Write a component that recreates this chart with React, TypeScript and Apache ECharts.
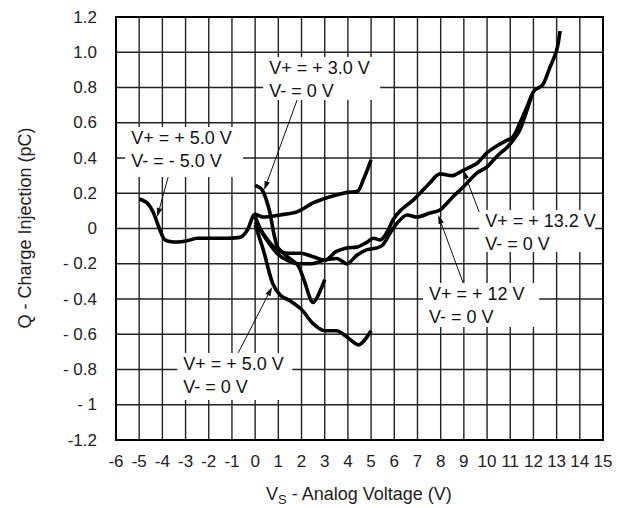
import React, { useEffect, useRef } from "react";
import * as echarts from "echarts";

const xTickLabels = ["-6", "-5", "-4", "-3", "-2", "-1", "0", "1", "2", "3", "4", "5", "6", "7", "8", "9", "10", "11", "12", "13", "14", "15"];
const yTickLabels = ["-1.2", "- 1", "- 0.8", "- 0.6", "- 0.4", "- 0.2", "0", "0.2", "0.4", "0.6", "0.8", "1.0", "1.2"];

// V+ = +5.0 V, V- = -5.0 V
const dualX = [-5.0, -4.66, -4.4, -4.1, -3.88, -3.36, -2.93, -2.5, -1.94, -1.2, -0.65, -0.34, 0, 0.34, 1.08, 1.8, 2.5, 3.23, 3.97, 4.4, 4.66, 5.0];
const dualQ = [0.167, 0.145, 0.094, -0.01, -0.065, -0.077, -0.07, -0.055, -0.055, -0.055, -0.05, -0.01, 0.08, 0.065, 0.077, 0.094, 0.145, 0.18, 0.205, 0.21, 0.275, 0.39];

// V+ = +3.0 V, V- = 0 V
const v3X = [0, 0.3, 0.6, 0.95, 1.4, 1.85, 2.1, 2.5, 3.0];
const v3Q = [0.245, 0.22, 0.11, -0.1, -0.16, -0.21, -0.29, -0.42, -0.29];

// V+ = +5.0 V, V- = 0 V
const v5X = [0, 0.35, 0.75, 1.1, 1.5, 2.0, 2.5, 3.0, 3.5, 4.0, 4.45, 5.0];
const v5Q = [0.02, -0.12, -0.31, -0.38, -0.41, -0.46, -0.54, -0.58, -0.58, -0.62, -0.66, -0.58];

// V+ = +13.2 V, V- = 0 V
const v13X = [0, 0.35, 0.94, 1.44, 1.94, 2.5, 3.0, 3.5, 3.95, 4.4, 4.83, 5.1, 5.39, 5.69, 5.95, 6.25, 6.8, 7.11, 7.54, 7.97, 8.5, 8.97, 9.57, 10.0, 10.43, 10.86, 11.12, 11.42, 11.72, 11.94, 12.07, 12.4, 12.7, 13.0, 13.15];
const v13Q = [0.065, -0.03, -0.12, -0.14, -0.14, -0.16, -0.18, -0.13, -0.11, -0.105, -0.077, -0.055, -0.065, -0.02, 0.05, 0.1, 0.16, 0.2, 0.26, 0.31, 0.3, 0.33, 0.37, 0.43, 0.47, 0.5, 0.52, 0.6, 0.69, 0.76, 0.787, 0.815, 0.91, 1.01, 1.12];

// V+ = +12 V, V- = 0 V
const v12X = [0, 0.5, 0.94, 1.37, 1.86, 2.45, 2.95, 3.52, 3.95, 4.4, 4.83, 5.26, 5.5, 5.82, 6.12, 6.55, 6.98, 7.54, 7.97, 8.53, 8.97, 9.57, 10.0, 10.43, 10.86, 11.12, 11.42, 11.72, 11.94];
const v12Q = [0.037, -0.065, -0.14, -0.18, -0.2, -0.2, -0.18, -0.17, -0.2, -0.15, -0.12, -0.11, -0.094, -0.026, 0.03, 0.077, 0.065, 0.088, 0.105, 0.18, 0.235, 0.315, 0.35, 0.41, 0.46, 0.5, 0.56, 0.67, 0.76];

// grid line positions (axis units)
const xGridValues = [-5, -4, -3, -2, -1, 0, 1, 2, 3, 4, 5, 6, 7, 8, 9, 10, 11, 12, 13, 14];
const yGridValues = [-1.0, -0.8, -0.6, -0.4, -0.2, 0, 0.2, 0.4, 0.6, 0.8, 1.0];
const xRange = [-6, 15];
const yRange = [-1.2, 1.2];

// annotation labels, boxes and arrows in data coordinates
const annLines = [
  ["V+ = + 3.0 V", "V- = 0 V"],
  ["V+ = + 5.0 V", "V- = - 5.0 V"],
  ["V+ = + 5.0 V", "V- = 0 V"],
  ["V+ = + 13.2 V", "V- = 0 V"],
  ["V+ = + 12 V", "V- = 0 V"],
];
const annBoxes = [
  [0.345, 0.973, 5.39, 0.729],
  [-5.606, 0.576, -0.517, 0.292],
  [-3.36, -0.706, 1.6, -0.973],
  [9.66, 0.105, 14.66, -0.133],
  [7.24, -0.309, 12.25, -0.559],
];
const annTails = [
  [1.81, 0.729],
  [-3.75, 0.292],
  [-0.733, -0.706],
  [9.66, 0.094],
  [8.97, -0.309],
];
const annTips = [
  [0.39, 0.218],
  [-4.226, 0.065],
  [0.733, -0.332],
  [8.97, 0.332],
  [7.89, 0.077],
];

const FONT = "Liberation Sans, Arial, sans-serif";

function pairs(xs: number[], ys: number[]) {
  return xs.map((x, i) => [x, ys[i]]);
}

export default function App() {
  const ref = useRef<HTMLDivElement>(null);
  useEffect(() => {
    if (!ref.current) return;
    const chart = echarts.init(ref.current, undefined, { renderer: "svg" });
    const lineSeries = (name: string, xs: number[], ys: number[]) => ({
      name,
      type: "line",
      data: pairs(xs, ys),
      showSymbol: false,
      smooth: 0.3,
      lineStyle: { color: "#000", width: 3.6 },
      z: 10,
    });
    chart.setOption({
      animation: false,
      backgroundColor: "#fff",
      grid: {
        left: 116,
        top: 17,
        right: 23,
        bottom: 68,
        show: false,
      },
      xAxis: {
        type: "value",
        min: -6,
        max: 15,
        interval: 1,
        axisLine: { show: false },
        axisTick: { show: false },
        splitLine: { show: false },
        axisLabel: {
          fontSize: 17,
          fontFamily: FONT,
          color: "#222",
          margin: 13,
          formatter: (v: number) => xTickLabels[Math.round(v + 6)],
        },
      },
      yAxis: {
        type: "value",
        min: -1.2,
        max: 1.2,
        interval: 0.2,
        axisLine: { show: false },
        axisTick: { show: false },
        splitLine: { show: false },
        axisLabel: {
          fontSize: 17,
          fontFamily: FONT,
          color: "#222",
          margin: 19,
          formatter: (v: number) => yTickLabels[Math.round((v + 1.2) / 0.2)],
        },
      },
      series: [
        lineSeries("V+ = +5.0 V, V- = -5.0 V", dualX, dualQ),
        lineSeries("V+ = +3.0 V, V- = 0 V", v3X, v3Q),
        lineSeries("V+ = +5.0 V, V- = 0 V", v5X, v5Q),
        lineSeries("V+ = +13.2 V, V- = 0 V", v13X, v13Q),
        lineSeries("V+ = +12 V, V- = 0 V", v12X, v12Q),
      ],
    });

    const toPx = (p: number[]) => chart.convertToPixel({ gridIndex: 0 }, p) as number[];
    const elements: any[] = [];

    // grid lines through the axis scales
    const left = toPx([xRange[0], yRange[0]]);
    const right = toPx([xRange[1], yRange[1]]);
    xGridValues.forEach((v) => {
      const p = toPx([v, 0]);
      elements.push({
        type: "line",
        silent: true,
        shape: { x1: p[0], y1: right[1], x2: p[0], y2: left[1] },
        style: { stroke: "#222", lineWidth: 1.4 },
        z: 2,
      });
    });
    yGridValues.forEach((v) => {
      const p = toPx([0, v]);
      elements.push({
        type: "line",
        silent: true,
        shape: { x1: left[0], y1: p[1], x2: right[0], y2: p[1] },
        style: { stroke: "#222", lineWidth: 1.4 },
        z: 2,
      });
    });
    elements.push({
      type: "rect",
      silent: true,
      shape: { x: left[0], y: right[1], width: right[0] - left[0], height: left[1] - right[1] },
      style: { fill: "none", stroke: "#000", lineWidth: 2 },
      z: 3,
    });

    annLines.forEach((lines, i) => {
      const b = annBoxes[i];
      const p0 = toPx([b[0], b[1]]);
      const p1 = toPx([b[2], b[3]]);
      elements.push({
        type: "rect",
        shape: { x: p0[0], y: p0[1], width: p1[0] - p0[0], height: p1[1] - p0[1] },
        style: { fill: "#fff" },
        z: 50,
      });
      lines.forEach((t, j) => {
        elements.push({
          type: "text",
          x: p0[0] + 6,
          y: p0[1] + 11 + j * 23,
          style: {
            text: t,
            fontSize: 18,
            fontFamily: FONT,
            fill: "#111",
            align: "left",
            verticalAlign: "middle",
          },
          z: 51,
        });
      });
      const a = toPx(annTails[i]);
      const tip = toPx(annTips[i]);
      const dx = tip[0] - a[0];
      const dy = tip[1] - a[1];
      const len = Math.sqrt(dx * dx + dy * dy);
      const ux = dx / len;
      const uy = dy / len;
      const hl = 9;
      const hw = 2.8;
      const bx = tip[0] - ux * hl;
      const by = tip[1] - uy * hl;
      elements.push({
        type: "line",
        shape: { x1: a[0], y1: a[1], x2: bx, y2: by },
        style: { stroke: "#111", lineWidth: 1 },
        z: 52,
      });
      elements.push({
        type: "polygon",
        shape: {
          points: [
            [tip[0], tip[1]],
            [bx - uy * hw, by + ux * hw],
            [bx + uy * hw, by - ux * hw],
          ],
        },
        style: { fill: "#111" },
        z: 52,
      });
    });

    // axis titles
    elements.push({
      type: "text",
      x: 25,
      y: 228,
      rotation: Math.PI / 2,
      style: {
        text: "Q - Charge Injection (pC)",
        fontSize: 18,
        fontFamily: FONT,
        fill: "#222",
        align: "center",
        verticalAlign: "middle",
      },
    });
    const tx = 266;
    const ty = 494;
    elements.push({
      type: "text",
      x: tx,
      y: ty,
      style: { text: "V", fontSize: 18, fontFamily: FONT, fill: "#222", align: "left", verticalAlign: "middle" },
    });
    elements.push({
      type: "text",
      x: tx + 12,
      y: ty + 5,
      style: { text: "S", fontSize: 13, fontFamily: FONT, fill: "#222", align: "left", verticalAlign: "middle" },
    });
    elements.push({
      type: "text",
      x: tx + 12 + 8.7,
      y: ty,
      style: { text: " - Analog Voltage (V)", fontSize: 18, fontFamily: FONT, fill: "#222", align: "left", verticalAlign: "middle" },
    });

    chart.setOption({ graphic: { elements } });

    return () => {
      chart.dispose();
    };
  }, []);
  return (
    <div
      ref={ref}
      style={{ position: "fixed", left: 0, top: 0, width: 626, height: 508, background: "#fff" }}
    />
  );
}
